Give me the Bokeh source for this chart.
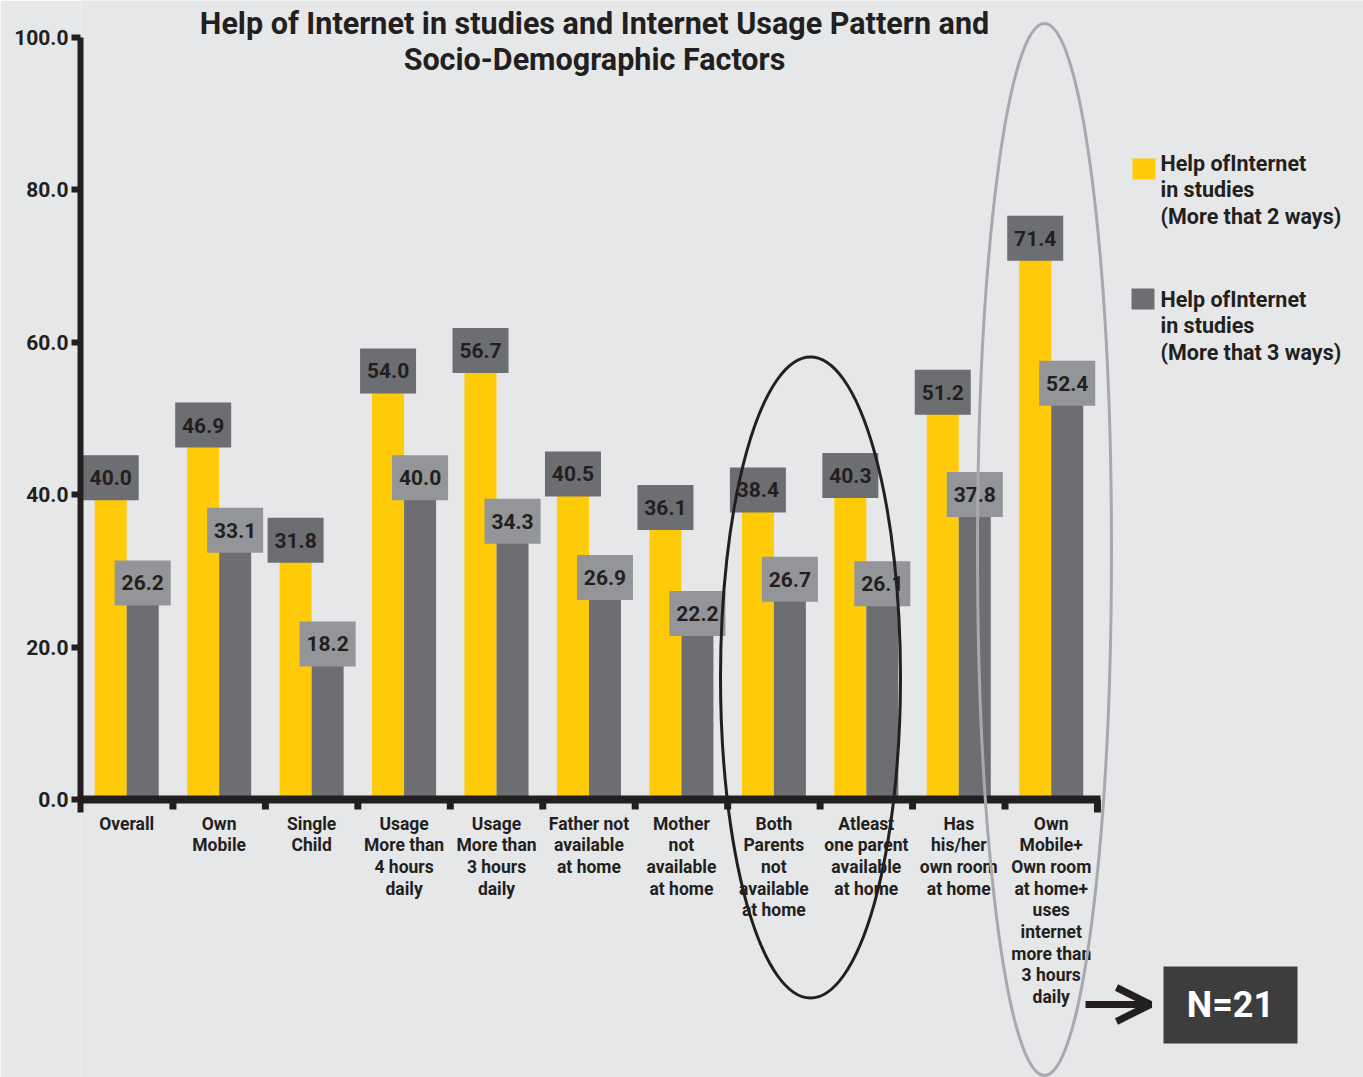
import numpy as np
from bokeh.plotting import figure
from bokeh.models import (Range1d, LinearAxis, FixedTicker, NumeralTickFormatter,
                          ColumnDataSource, Arrow, OpenHead)
from bokeh.core.properties import value
from bokeh.embed import file_html
from bokeh.resources import INLINE

# ---------------- data ----------------
categories = [
    "Overall",
    "Own\nMobile",
    "Single\nChild",
    "Usage\nMore than\n4 hours\ndaily",
    "Usage\nMore than\n3 hours\ndaily",
    "Father not\navailable\nat home",
    "Mother\nnot\navailable\nat home",
    "Both\nParents\nnot\navailable\nat home",
    "Atleast\none parent\navailable\nat home",
    "Has\nhis/her\nown room\nat home",
    "Own\nMobile+\nOwn room\nat home+\nuses\ninternet\nmore than\n3 hours\ndaily",
]
more_than_2_ways = [40.0, 46.9, 31.8, 54.0, 56.7, 40.5, 36.1, 38.4, 40.3, 51.2, 71.4]
more_than_3_ways = [26.2, 33.1, 18.2, 40.0, 34.3, 26.9, 22.2, 26.7, 26.1, 37.8, 52.4]
series_names = ["Help ofInternet\nin studies\n(More that 2 ways)",
                "Help ofInternet\nin studies\n(More that 3 ways)"]
y_ticks = [0, 20, 40, 60, 80, 100]
title_text = "Help of Internet in studies and Internet Usage Pattern and\nSocio-Demographic Factors"
n_note = "N=21"

# ---------------- style ----------------
BG = "#e6e7e8"
YEL = "#ffcb08"
GRY = "#6d6e71"
LGRY = "#939598"
DARK = "#231f20"
FONT = "Roboto"

# layout helpers (reference pixel -> data coords) for decorations
PX, X0 = 92.45, 80.0
PY, Y0 = 7.625, 799.0
def X(px): return (px - X0) / PX
def Y(py): return (Y0 - py) / PY

W, H = 1363, 1077
p = figure(width=W, height=H, output_backend="svg", toolbar_location=None,
           x_axis_type=None, y_axis_type=None,
           x_range=Range1d(X(80), X(W)), y_range=Range1d(Y(H), Y(0)),
           min_border=0, min_border_left=80)
p.background_fill_color = BG
p.border_fill_color = BG
p.outline_line_color = None
p.grid.visible = False

n = len(categories)
xc = np.arange(n) + 0.5
bw = 32 / PX
off = bw / 2

src = ColumnDataSource(dict(
    xc=xc, x1=xc - off, x2=xc + off,
    v1=more_than_2_ways, v2=more_than_3_ways,
    t1=[f"{v:.1f}" for v in more_than_2_ways],
    t2=[f"{v:.1f}" for v in more_than_3_ways],
    c1=[v + 2.2 for v in more_than_2_ways],
    c2=[v + 2.2 for v in more_than_3_ways],
    cat=categories,
))

p.vbar(x="x1", top="v1", bottom=0, width=bw, source=src, fill_color=YEL, line_color=None)
p.vbar(x="x2", top="v2", bottom=0, width=bw, source=src, fill_color=GRY, line_color=None)

# value boxes
bxw = 56 / PX
bxh = 45 / PY
p.rect(x="x1", y="c1", width=bxw, height=bxh, source=src, fill_color=GRY, line_color=None)
p.rect(x="x2", y="c2", width=bxw, height=bxh, source=src, fill_color=LGRY, line_color=None)
for tcol, xcol, ycol in (("t1", "x1", "c1"), ("t2", "x2", "c2")):
    p.text(x=xcol, y=ycol, text=tcol, source=src, text_align="center",
           text_baseline="middle", text_font=value(FONT), text_font_style="bold",
           text_font_size="21px", text_color=DARK)

# x axis baseline and ticks
p.segment(x0=[X(75)], y0=[0], x1=[X(1100)], y1=[0], line_width=8, line_color=DARK)
bnd = np.arange(1, n)
p.segment(x0=bnd, y0=[0] * len(bnd), x1=bnd, y1=[Y(809)] * len(bnd),
          line_width=7, line_color=DARK)
p.segment(x0=[n], y0=[0], x1=[n], y1=[Y(812)], line_width=7, line_color=DARK)

# category labels
p.text(x="xc", y=Y(813), text="cat", source=src, text_align="center",
       text_baseline="top", text_font=value(FONT), text_font_style="bold",
       text_font_size="17.5px", text_line_height=1.085, text_color=DARK)

# y axis
yaxis = LinearAxis(ticker=FixedTicker(ticks=y_ticks),
                   formatter=NumeralTickFormatter(format="0.0"),
                   bounds=(Y(812), 100),
                   axis_line_width=6, axis_line_color=DARK,
                   major_tick_line_width=6, major_tick_line_color=DARK,
                   major_tick_out=9, major_tick_in=0,
                   minor_tick_out=0, minor_tick_in=0,
                   major_label_text_font=FONT, major_label_text_font_style="bold",
                   major_label_text_font_size="21px", major_label_text_color=DARK,
                   major_label_standoff=3)
p.add_layout(yaxis, "left")

# title
p.text(x=[X(594)], y=[Y(5)], text=[title_text], text_align="center", text_baseline="top",
       text_font=value(FONT), text_font_style="bold", text_font_size="30.5px",
       text_line_height=1.04, text_color=DARK)

# legend
p.rect(x=[X(1143.5)], y=[Y(168.5)], width=23 / PX, height=21 / PY, fill_color=YEL, line_color=None)
p.rect(x=[X(1142.5)], y=[Y(298.5)], width=23 / PX, height=21 / PY, fill_color=GRY, line_color=None)
p.text(x=[X(1160), X(1160)], y=[Y(150), Y(286)], text=series_names, text_align="left",
       text_baseline="top", text_font=value(FONT), text_font_style="bold",
       text_font_size="21.5px", text_line_height=1.06, text_color=DARK)

# ellipses
p.ellipse(x=[X(810)], y=[Y(677)], width=[180 / PX], height=[641 / PY],
          fill_color=None, line_color=DARK, line_width=3)
p.ellipse(x=[X(1044)], y=[Y(549)], width=[134 / PX], height=[1052 / PY],
          fill_color=None, line_color="#a7a9ac", line_width=3)

# N=21 note
p.rect(x=[X(1230)], y=[Y(1004.5)], width=134 / PX, height=77 / PY, fill_color="#3d3d3d", line_color=None)
p.text(x=[X(1230)], y=[Y(1004.5)], text=[n_note], text_align="center", text_baseline="middle",
       text_font=value(FONT), text_font_style="bold", text_font_size="36px", text_color="white")
p.add_layout(Arrow(x_start=X(1085), y_start=Y(1004), x_end=X(1150), y_end=Y(1004),
                   line_width=7, line_color=DARK,
                   end=OpenHead(size=34, line_width=7, line_color=DARK)))

open("out.html", "w").write(file_html(p, INLINE))
